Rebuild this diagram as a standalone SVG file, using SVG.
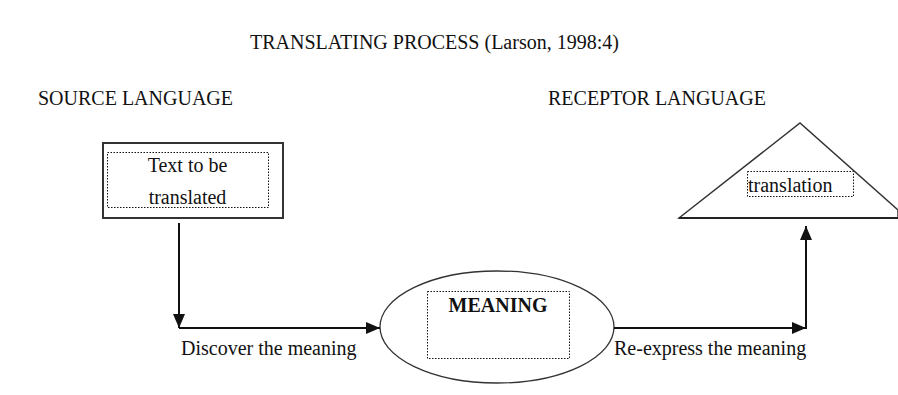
<svg xmlns="http://www.w3.org/2000/svg" width="898" height="395" viewBox="0 0 898 395">
<style>
  text { font-family: "Liberation Serif", "Times New Roman", serif; font-size: 20px; fill: #111; }
  .bold { font-weight: bold; }
  .dot { fill: none; stroke: #111; stroke-width: 1; stroke-dasharray: 1.5 1.5; }
  .shape { fill: none; stroke: #333; }
  .conn { fill: none; stroke: #111; stroke-width: 2; }
</style>
<defs>
  <marker id="arrow" viewBox="0 0 14 12" refX="14" refY="6" markerWidth="14" markerHeight="12" markerUnits="userSpaceOnUse" orient="auto">
    <path d="M0,0 L14,6 L0,12 Z" fill="#111"/>
  </marker>
</defs>
<rect width="898" height="395" fill="#ffffff"/>
<text id="title" x="250" y="49">TRANSLATING PROCESS (Larson, 1998:4)</text>
<text id="source-label" x="38" y="105">SOURCE LANGUAGE</text>
<text id="receptor-label" x="548" y="105">RECEPTOR LANGUAGE</text>

<g id="source-text">
  <rect class="shape" x="103" y="143" width="180" height="75" stroke-width="2"/>
  <rect class="dot" x="107.5" y="152.5" width="161" height="55"/>
  <text x="187.5" y="172" text-anchor="middle">Text to be</text>
  <text x="187.5" y="204" text-anchor="middle">translated</text>
</g>

<g id="meaning">
  <ellipse class="shape" cx="497" cy="327" rx="117" ry="56" stroke-width="1.3"/>
  <rect class="dot" x="427.5" y="291.5" width="142" height="67"/>
  <text class="bold" x="498" y="312" text-anchor="middle">MEANING</text>
</g>

<g id="translation">
  <polygon class="shape" points="679,218 800,123 898,210 898,218" stroke-width="1.5"/>
  <line x1="679" y1="218" x2="898" y2="218" stroke="#222" stroke-width="2"/>
  <rect class="dot" x="747.5" y="171.5" width="106" height="25"/>
  <text x="748" y="192">translation</text>
</g>

<g id="connectors">
  <path class="conn" d="M179 223 V328" marker-end="url(#arrow)"/>
  <path class="conn" d="M179 328 H380" marker-end="url(#arrow)"/>
  <path class="conn" d="M614 328 H806" marker-end="url(#arrow)"/>
  <path class="conn" d="M806 329 V226" marker-end="url(#arrow)"/>
</g>

<text id="discover-label" x="181" y="355">Discover the meaning</text>
<text id="reexpress-label" x="614" y="355">Re-express the meaning</text>
</svg>
